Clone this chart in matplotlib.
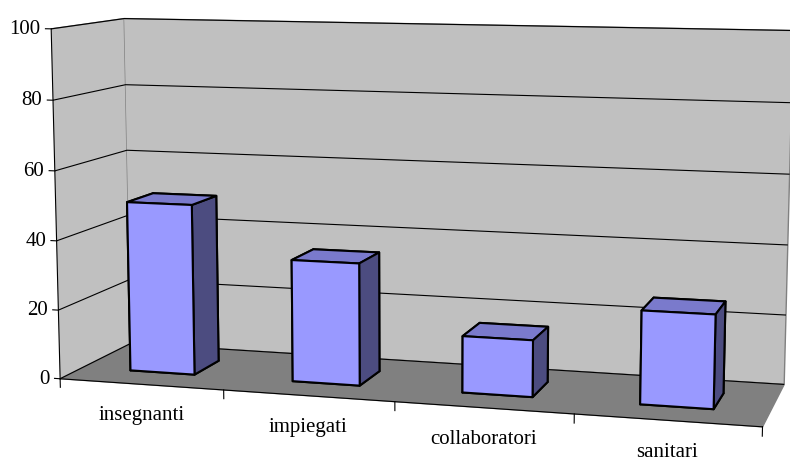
import numpy as np
import matplotlib
matplotlib.use("Agg")
from matplotlib import pyplot as plt

# data
categories = ["insegnanti", "impiegati", "collaboratori", "sanitari"]
values = [49.5, 35, 16, 26]
zticks = [0, 20, 40, 60, 80, 100]

plt.rcParams['font.family'] = ['Liberation Serif', 'DejaVu Serif']

fig = plt.figure(figsize=(7.9, 4.6), dpi=100)
# the 3d axes is made square, so make it big enough to hold the whole picture
ax = fig.add_axes([-0.0013, -0.3695, 1.038, 1.783], projection='3d')
ax.set_proj_type('persp', focal_length=0.48)
ax.view_init(elev=8.5, azim=-74)
ax.set_box_aspect((4, 1.0, 2.0), zoom=0.965)

ax.set_xlim(0, len(categories))
ax.set_ylim(0, 1)
ax.set_zlim(0, 100)

# walls and floor
ax.xaxis.set_pane_color('#c0c0c0')
ax.yaxis.set_pane_color('#c0c0c0')
ax.zaxis.set_pane_color('#808080')
ax.xaxis.pane.set_edgecolor('#808080')
ax.yaxis.pane.set_edgecolor('#808080')
ax.zaxis.pane.set_edgecolor('#808080')

ax.set_xticks([])
ax.set_yticks([])
ax.set_zticks(zticks)
ax.zaxis.set_ticks_position('lower')
ax.zaxis.set_tick_params(label1On=False, label2On=False)
ax.zaxis._axinfo['grid']['color'] = 'black'
ax.zaxis._axinfo['grid']['linewidth'] = 0.8
ax.zaxis._axinfo['grid']['linestyle'] = '-'
ax.zaxis._axinfo['tick']['inward_factor'] = 0
ax.zaxis._axinfo['tick']['outward_factor'] = 0
ax.xaxis.line.set_color('black')
ax.yaxis.line.set_color((0, 0, 0, 0))
ax.zaxis.line.set_color('black')
for a in (ax.xaxis, ax.yaxis, ax.zaxis):
    a.label.set_visible(False)
    a.offsetText.set_visible(False)

# value axis: ticks pointing left, labels right-aligned
for t in zticks:
    ax.plot([-0.035, 0], [0, 0], [t, t], color='black', lw=0.8)
    ax.text(-0.065, 0, t, str(t), ha='right', va='center', fontsize=15)

front = '#9999ff'
top = '#7a7acc'
side = '#4c4c80'
for i, v in enumerate(values):
    # faces: bottom, top, front, back, left, right
    ax.bar3d(i + 0.3, 0.31, 0, 0.4, 0.38, v,
             color=[front, top, front, front, side, side],
             edgecolor='black', linewidth=1.5, shade=False)

# category labels and tick marks between categories
for i, name in enumerate(categories):
    ax.text(i + 0.5, 0, -6, name, ha='center', va='top', fontsize=15)
for b in range(len(categories) + 1):
    ax.plot([b, b], [0, 0], [0, -2.5], color='black', lw=0.8)

fig.savefig('out.png', dpi=100)
